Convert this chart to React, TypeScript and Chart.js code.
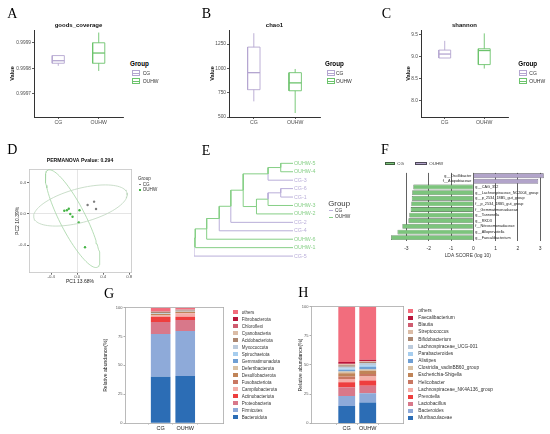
import React, { useEffect, useRef } from 'react';
import { Chart, registerables } from 'chart.js';
Chart.register(...registerables);

const SANS = "'Liberation Sans', Arial, sans-serif";
const SERIF = "'Liberation Serif', 'Times New Roman', serif";
Chart.defaults.font.family = SANS;

// ---------- shared ----------
const groups = ['CG', 'OUHW'];
const boxColors = ['#b4a6d0', '#6cc36c'];

// ---------- A/B/C : [min, q1, median, q3, max] ----------
const goodsCG = [0.99981, 0.99982, 0.99983, 0.99985, 0.99985];
const goodsOUHW = [0.99979, 0.99982, 0.99986, 0.9999, 0.99994];
const goodsTicks = [0.9997, 0.9998, 0.9999];
const chaoCG = [661, 781, 956, 1219, 1362];
const chaoOUHW = [541, 770, 851, 956, 994];
const chaoTicks = [500, 750, 1000, 1250];
const shannonCG = [8.96, 8.96, 9.05, 9.14, 9.35];
const shannonOUHW = [8.72, 8.81, 9.13, 9.17, 9.52];
const shannonTicks = [8.0, 8.5, 9.0, 9.5];

// ---------- D : PCoA ----------
const pcoaCGx = [0.16, 0.26, 0.29];
const pcoaCGy = [0.115, 0.158, 0.064];
const pcoaOUx = [-0.199, -0.159, -0.13, -0.107, -0.072, 0.035, 0.024, 0.12];
const pcoaOUy = [0.042, 0.047, 0.068, 0.0, -0.035, 0.047, -0.107, -0.427];
// ellipse: centre x, centre y, axis-1 vector, axis-2 vector
const ellipseCG = [0.05, 0.109, 0.718, 0.16, 0.067, -0.21];
const ellipseOU = [-0.07, -0.06, 0.382, -0.622, 0.177, 0.077];
const pcoaTicks = [-0.4, 0.0, 0.4, 0.8];

// ---------- E : clustering tree ----------
const leafNames = ['OUHW-5', 'OUHW-4', 'CG-3', 'CG-6', 'CG-1', 'OUHW-3', 'OUHW-2', 'CG-2', 'CG-4', 'OUHW-6', 'OUHW-1', 'CG-5'];
const mergeA = ['OUHW-5', 'n0', 'CG-6', 'n2', 'n3', 'n1', 'n5', 'n6', 'n7', 'n8', 'n9'];
const mergeB = ['OUHW-4', 'CG-3', 'CG-1', 'OUHW-3', 'OUHW-2', 'n4', 'CG-2', 'CG-4', 'OUHW-6', 'OUHW-1', 'CG-5'];
const mergeHeight = [12.4, 25.2, 12.4, 25.2, 36.9, 50.3, 62.8, 74.5, 87.2, 98.7, 100];
const treeColors = { CG: '#b9aed9', OUHW: '#86cf86' };

// ---------- F : LEfSe ----------
const fLabels = ['g__Oscillibacter', 'f__Atopobiaceae', 'g__CAG_352', 'g__Lachnospiraceae_NC2004_group', 'g__p_2534_18B5_gut_group', 'f__p_2534_18B5_gut_group', 'f__Gemmatimonadaceae', 'g__Tannerella', 'g__RKD3', 'f__Nitrosomonadaceae', 'g__Alloprevotella', 'g__Faecalibacterium'];
const fScores = [3.16, 2.91, -2.69, -2.74, -2.76, -2.78, -2.81, -2.87, -2.91, -3.18, -3.4, -3.69];
const fGroup = ['OUHW', 'OUHW', 'CG', 'CG', 'CG', 'CG', 'CG', 'CG', 'CG', 'CG', 'CG', 'CG'];
const fTicks = [-3, -2, -1, 0, 1, 2, 3];

// ---------- G / H : composition (bottom to top) ----------
const stackColors = ['#2c6db5', '#8eaad9', '#d8788a', '#ee3e3e', '#f4aea8', '#c97762', '#c08458', '#d9c2a4', '#6f9fd3', '#a6cdee', '#bccbdc', '#ab8670', '#dbbca6', '#cf5c70', '#b9163a', '#f26d7d'];
const phylaNames = ['Bacteroidota', 'Firmicutes', 'Proteobacteria', 'Actinobacteriota', 'Campilobacterota', 'Fusobacteriota', 'Desulfobacterota', 'Deferribacterota', 'Gemmatimonadota', 'Spirochaetota', 'Myxococcota', 'Acidobacteriota', 'Cyanobacteria', 'Chloroflexi', 'Fibrobacterota', 'others'];
const phylaCG = [40.2, 37.0, 10.4, 4.6, 1.0, 0.3, 1.0, 0.3, 0.2, 0.2, 0.2, 0.8, 0.3, 0.4, 0.2, 2.9];
const phylaOUHW = [40.8, 39.0, 9.5, 2.9, 2.9, 0.3, 1.0, 0.3, 0.2, 0.2, 0.2, 0.6, 0.3, 0.3, 0.1, 1.4];
const genusNames = ['Muribaculaceae', 'Bacteroides', 'Lactobacillus', 'Prevotella', 'Lachnospiraceae_NK4A136_group', 'Helicobacter', 'Escherichia-Shigella', 'Clostridia_vadinBB60_group', 'Alistipes', 'Parabacteroides', 'Lachnospiraceae_UCG-001', 'Bifidobacterium', 'Streptococcus', 'Blautia', 'Faecalibacterium', 'others'];
const genusCG = [14.9, 8.5, 7.5, 4.3, 2.9, 2.0, 2.9, 1.5, 1.5, 1.0, 1.5, 1.3, 0.8, 0.5, 1.4, 47.5];
const genusOUHW = [17.8, 8.0, 6.3, 4.6, 3.4, 2.1, 2.8, 1.2, 2.0, 1.5, 2.0, 0.8, 0.6, 0.4, 1.0, 45.5];
const pctTicks = [0, 25, 50, 75, 100];

// ---------- helpers ----------
const base = { animation: false, responsive: false, events: [] as any[] };
const noPlug = { legend: { display: false }, tooltip: { enabled: false } };
const lineDs = (data: any[], color: string, width = 0.9) => ({
  type: 'scatter', showLine: true, pointRadius: 0, borderColor: color, backgroundColor: color,
  borderWidth: width, fill: false, data,
});
const setTicks = (vals: number[]) => (s: any) => { s.ticks = vals.map((v) => ({ value: v })); };
const frameAxis = (pos: string, color: string) => ({
  position: pos, type: 'linear', display: true,
  ticks: { display: false }, grid: { display: false, drawTicks: false },
  border: { display: true, color, width: 0.8 },
  afterFit: (s: any) => { if (pos === 'top') s.height = 0; else s.width = 0; },
});

function boxDatasets(stats: number[][]) {
  const hw = 0.15;
  const ds: any[] = [];
  stats.forEach((s, i) => {
    const x = i + 1;
    const c = boxColors[i];
    const [mn, q1, md, q3, mx] = s;
    ds.push(lineDs([{ x, y: mn }, { x, y: q1 }], c));
    ds.push(lineDs([{ x, y: q3 }, { x, y: mx }], c));
    ds.push(lineDs([{ x: x - hw, y: q1 }, { x: x + hw, y: q1 }, { x: x + hw, y: q3 }, { x: x - hw, y: q3 }, { x: x - hw, y: q1 }], c));
    ds.push(lineDs([{ x: x - hw, y: md }, { x: x + hw, y: md }], c, 1.3));
  });
  return ds;
}

function boxConfig(title: string, stats: number[][], yMin: number, yMax: number, ticks: number[], fmt: (v: number) => string, padLeft: number, yWidth: number, padRight: number) {
  const axisCol = '#333';
  return {
    type: 'scatter',
    data: { datasets: boxDatasets(stats) },
    options: {
      ...base,
      layout: { padding: { left: padLeft, right: padRight, top: 0, bottom: 0 } },
      plugins: {
        ...noPlug,
        title: { display: true, text: title, fullSize: false, color: '#111', font: { family: SANS, size: 6, weight: 'bold', lineHeight: 1.2 }, padding: { top: 21.6, bottom: 1.2 } },
      },
      scales: {
        x: {
          type: 'linear', min: 0.4, max: 2.6,
          afterBuildTicks: setTicks([1, 2]),
          afterFit: (s: any) => { s.height = 13; },
          ticks: { callback: (v: any) => groups[Math.round(v) - 1], font: { size: 5.2 }, color: '#4d4d4d', padding: 0.5, maxRotation: 0, autoSkip: false },
          grid: { drawOnChartArea: false, tickLength: 2, color: axisCol, lineWidth: 0.8 },
          border: { color: axisCol, width: 1 },
        },
        y: {
          type: 'linear', min: yMin, max: yMax,
          afterBuildTicks: setTicks(ticks),
          afterFit: (s: any) => { s.width = yWidth; },
          ticks: { callback: (v: any) => fmt(v), font: { size: 4.8 }, color: '#4d4d4d', padding: 1 },
          grid: { drawOnChartArea: false, tickLength: 2, color: axisCol, lineWidth: 0.8 },
          border: { color: axisCol, width: 1 },
          title: { display: true, text: 'Value', color: '#111', font: { size: 5.6, weight: 'bold', lineHeight: 1.2 }, padding: { top: 1, bottom: 0 } },
        },
      },
    },
  };
}

function ellipsePts(e: number[]) {
  const [cx, cy, ax, ay, bx, by] = e;
  const pts: { x: number; y: number }[] = [];
  for (let k = 0; k <= 90; k++) {
    const t = (k / 90) * 2 * Math.PI;
    pts.push({ x: cx + ax * Math.cos(t) + bx * Math.sin(t), y: cy + ay * Math.cos(t) + by * Math.sin(t) });
  }
  return pts;
}

function pcoaConfig() {
  const frame = '#c4c4c4';
  const zeroGrid = (ctx: any) => (ctx.tick && Math.abs(ctx.tick.value) < 1e-9 ? '#dedede' : 'rgba(0,0,0,0)');
  return {
    type: 'scatter',
    data: {
      datasets: [
        lineDs(ellipsePts(ellipseCG), '#bcd6bc', 0.8),
        lineDs(ellipsePts(ellipseOU), '#a3d4a3', 0.8),
        { type: 'scatter', data: pcoaCGx.map((x, i) => ({ x, y: pcoaCGy[i] })), pointRadius: 1.2, backgroundColor: '#7d7d7d', borderWidth: 0 },
        { type: 'scatter', data: pcoaOUx.map((x, i) => ({ x, y: pcoaOUy[i] })), pointRadius: 1.2, backgroundColor: '#45b445', borderWidth: 0 },
      ],
    },
    options: {
      ...base,
      layout: { padding: { left: 15, right: 3, top: 0, bottom: 5.3 } },
      plugins: {
        ...noPlug,
        title: { display: true, text: 'PERMANOVA Pvalue: 0.294', fullSize: false, color: '#111', font: { size: 5.1, weight: 'bold', lineHeight: 1.2 }, padding: { top: 7.64, bottom: 5.24 } },
      },
      scales: {
        x: {
          type: 'linear', min: -0.743, max: 0.829,
          afterBuildTicks: setTicks(pcoaTicks),
          afterFit: (s: any) => { s.height = 12; },
          ticks: { callback: (v: any) => Number(v).toFixed(1), font: { size: 4.3 }, color: '#4d4d4d', padding: 0, maxRotation: 0, autoSkip: false },
          grid: { color: zeroGrid, tickColor: '#444', tickLength: 2, lineWidth: 0.8 },
          border: { color: frame, width: 0.8 },
          title: { display: true, text: 'PC1 13.68%', color: '#222', font: { size: 5, lineHeight: 1.2 }, padding: 0 },
        },
        y: {
          type: 'linear', min: -0.753, max: 0.577,
          afterBuildTicks: setTicks([-0.4, 0.0, 0.4]),
          afterFit: (s: any) => { s.width = 14; },
          ticks: { callback: (v: any) => Number(v).toFixed(1), font: { size: 4.3 }, color: '#4d4d4d', padding: 1 },
          grid: { color: zeroGrid, tickColor: '#444', tickLength: 2, lineWidth: 0.8 },
          border: { color: frame, width: 0.8 },
          title: { display: true, text: 'PC2 10.39%', color: '#222', font: { size: 5, lineHeight: 1.2 }, padding: 0 },
        },
        x2: frameAxis('top', frame),
        y2: frameAxis('right', frame),
      },
    },
  };
}

function treeConfig() {
  const pos: Record<string, { y: number; h: number; cg: boolean }> = {};
  leafNames.forEach((n, i) => { pos[n] = { y: i, h: 0, cg: n.startsWith('CG') }; });
  const ds: any[] = [];
  const col = (cg: boolean) => (cg ? treeColors.CG : treeColors.OUHW);
  mergeHeight.forEach((h, k) => {
    const a = pos[mergeA[k]];
    const b = pos[mergeB[k]];
    const mid = (a.y + b.y) / 2;
    ds.push(lineDs([{ x: a.h, y: a.y }, { x: h, y: a.y }, { x: h, y: mid }], col(a.cg), 1));
    ds.push(lineDs([{ x: b.h, y: b.y }, { x: h, y: b.y }, { x: h, y: mid }], col(b.cg), 1));
    pos['n' + k] = { y: mid, h, cg: a.cg && b.cg };
  });
  return {
    type: 'scatter',
    data: { datasets: ds },
    options: {
      ...base,
      layout: { padding: { left: 9, right: 12, top: 9.1, bottom: 4.7 } },
      plugins: { ...noPlug },
      scales: {
        x: { type: 'linear', reverse: true, min: 0, max: 100, display: false },
        y: {
          type: 'linear', reverse: true, min: -0.5, max: 11.5, position: 'right',
          afterBuildTicks: setTicks(leafNames.map((_, i) => i)),
          afterFit: (s: any) => { s.width = 30; },
          ticks: {
            callback: (v: any) => leafNames[Math.round(v)],
            color: (ctx: any) => (leafNames[ctx.index] && leafNames[ctx.index].startsWith('CG') ? treeColors.CG : treeColors.OUHW),
            font: { size: 5.3 }, padding: 1, autoSkip: false,
          },
          grid: { display: false, drawTicks: false },
          border: { display: false },
        },
      },
    },
  };
}

const fLabelPlugin = {
  id: 'fLabels',
  afterDraw(chart: any) {
    const { ctx } = chart;
    const xs = chart.scales.x;
    const ys = chart.scales.y;
    const x0 = xs.getPixelForValue(0);
    ctx.save();
    ctx.font = `3.8px ${SANS}`;
    ctx.fillStyle = '#222';
    ctx.textBaseline = 'middle';
    fLabels.forEach((t, i) => {
      const yy = ys.getPixelForValue(i);
      const positive = fScores[i] > 0;
      ctx.textAlign = positive ? 'right' : 'left';
      ctx.fillText(t, positive ? x0 - 2 : x0 + 2, yy);
    });
    ctx.restore();
  },
};

function ldaConfig() {
  return {
    type: 'bar',
    data: {
      labels: fLabels,
      datasets: [
        { label: 'CG', data: fScores.map((v, i) => (fGroup[i] === 'CG' ? v : null)), backgroundColor: '#7cc47c', borderColor: '#3f5f3f', borderWidth: 0.6, grouped: false, barPercentage: 0.86, categoryPercentage: 1 },
        { label: 'OUHW', data: fScores.map((v, i) => (fGroup[i] === 'OUHW' ? v : null)), backgroundColor: '#b2a4ca', borderColor: '#4f4a5a', borderWidth: 0.6, grouped: false, barPercentage: 0.86, categoryPercentage: 1 },
      ],
    },
    plugins: [fLabelPlugin],
    options: {
      ...base,
      indexAxis: 'y',
      layout: { padding: { left: 19.7, right: 4.2, top: 22.9, bottom: 6.06 } },
      plugins: { ...noPlug },
      scales: {
        x: {
          type: 'linear', min: -3.75, max: 3.25, z: 1,
          afterBuildTicks: setTicks(fTicks),
          afterFit: (s: any) => { s.height = 18.44; },
          ticks: { callback: (v: any) => String(v), font: { size: 5 }, color: '#333', padding: 4.8, maxRotation: 0, autoSkip: false },
          grid: { color: '#3a3a3a', lineWidth: 0.8, drawTicks: false },
          border: { display: false },
          title: { display: true, text: 'LDA SCORE (log 10)', color: '#333', font: { size: 4.9, lineHeight: 1.2 }, padding: 0 },
        },
        y: { type: 'category', display: false },
      },
    },
  };
}

function stackConfig(names: string[], cg: number[], ou: number[], xMin: number, xMax: number, padLeft: number, yWidth: number, padTop: number, xHeight: number) {
  const frame = '#a8a8a8';
  return {
    type: 'bar',
    data: {
      datasets: names.map((n, i) => ({
        label: n, data: [{ x: 1, y: cg[i] }, { x: 2, y: ou[i] }],
        backgroundColor: stackColors[i], borderWidth: 0, barPercentage: 0.8, categoryPercentage: 1,
      })),
    },
    options: {
      ...base,
      layout: { padding: { left: padLeft, right: 1.7, top: padTop, bottom: 0 } },
      plugins: { ...noPlug },
      scales: {
        x: {
          type: 'linear', stacked: true, min: xMin, max: xMax,
          afterBuildTicks: setTicks([1, 2]),
          afterFit: (s: any) => { s.height = xHeight; },
          ticks: { callback: (v: any) => groups[Math.round(v) - 1], font: { size: 5.5 }, color: '#222', padding: 0.5, maxRotation: 0, autoSkip: false },
          grid: { drawOnChartArea: false, tickLength: 1.5, color: '#777', lineWidth: 0.6 },
          border: { color: frame, width: 0.8 },
        },
        y: {
          type: 'linear', stacked: true, min: 0, max: 100,
          afterBuildTicks: setTicks(pctTicks),
          afterFit: (s: any) => { s.width = yWidth; },
          ticks: { callback: (v: any) => String(v), font: { size: 4 }, color: '#555', padding: 1 },
          grid: { drawOnChartArea: false, tickLength: 1.5, color: '#777', lineWidth: 0.6 },
          border: { color: frame, width: 0.8 },
          title: { display: true, text: 'Relative abundance(%)', color: '#222', font: { size: 5.1, lineHeight: 1.2 }, padding: 0 },
        },
        x2: frameAxis('top', frame),
        y2: frameAxis('right', frame),
      },
    },
  };
}

// ---------- components ----------
function ChartBox({ left, top, width, height, make }: { left: number; top: number; width: number; height: number; make: () => any }) {
  const ref = useRef<HTMLCanvasElement>(null);
  useEffect(() => {
    if (!ref.current) return;
    const chart = new Chart(ref.current, make());
    return () => chart.destroy();
  }, []);
  return <canvas ref={ref} width={width} height={height} style={{ position: 'absolute', left, top, width, height }} />;
}

function Txt({ x, cy, s, children, bold, color = '#222', family = SANS }: any) {
  return (
    <div style={{ position: 'absolute', left: x, top: cy - s * 0.6, fontSize: s, lineHeight: `${s * 1.2}px`, fontFamily: family, fontWeight: bold ? 'bold' : 'normal', color, whiteSpace: 'nowrap' }}>
      {children}
    </div>
  );
}

function Rect({ x, cy, w, h, bg, border }: any) {
  return <div style={{ position: 'absolute', left: x, top: cy - h / 2, width: w, height: h, background: bg, boxSizing: 'border-box', border: border || 'none' }} />;
}

function BoxGlyph({ x, cy, color }: any) {
  return (
    <div style={{ position: 'absolute', left: x, top: cy - 3, width: 8, height: 6, boxSizing: 'border-box', border: `1px solid ${color}`, background: '#fff' }}>
      <div style={{ position: 'absolute', left: 0, right: 0, top: 1.5, height: 1, background: color }} />
    </div>
  );
}

function BoxLegend({ tx, gx, lx }: { tx: number; gx: number; lx: number }) {
  return (
    <>
      <Txt x={tx} cy={63.5} s={6.3} bold color="#000">Group</Txt>
      <BoxGlyph x={gx} cy={73} color={boxColors[0]} />
      <Txt x={lx} cy={73} s={5} color="#333">{groups[0]}</Txt>
      <BoxGlyph x={gx} cy={81.3} color={boxColors[1]} />
      <Txt x={lx} cy={81.3} s={5} color="#333">{groups[1]}</Txt>
    </>
  );
}

function StackLegend({ names, ix, tx, y0, step, iw, ih, s }: any) {
  const n = names.length;
  return (
    <>
      {names.map((_: string, k: number) => {
        const i = n - 1 - k;
        const cy = y0 + k * step;
        return (
          <React.Fragment key={k}>
            <Rect x={ix} cy={cy} w={iw} h={ih} bg={stackColors[i]} />
            <Txt x={tx} cy={cy} s={s} color="#333">{names[i]}</Txt>
          </React.Fragment>
        );
      })}
    </>
  );
}

export default function App() {
  const letter = (t: string, x: number, cy: number) => <Txt x={x} cy={cy} s={14} family={SERIF} color="#000">{t}</Txt>;
  return (
    <div style={{ position: 'absolute', left: 0, top: 0, width: 550, height: 434, background: '#fff', overflow: 'hidden' }}>
      <ChartBox left={0} top={0} width={130} height={130} make={() => boxConfig('goods_coverage', [goodsCG, goodsOUHW], 0.99961, 0.99995, goodsTicks, (v) => v.toFixed(4), 7.84, 26.16, 7)} />
      <ChartBox left={180} top={0} width={145} height={130} make={() => boxConfig('chao1', [chaoCG, chaoOUHW], 500, 1395, chaoTicks, (v) => String(v), 27.64, 21.36, 5)} />
      <ChartBox left={360} top={0} width={150} height={130} make={() => boxConfig('shannon', [shannonCG, shannonOUHW], 7.618, 9.597, shannonTicks, (v) => v.toFixed(1), 43.94, 17.06, 2)} />
      <ChartBox left={0} top={150} width={135} height={140} make={pcoaConfig} />
      <ChartBox left={185} top={150} width={150} height={115} make={treeConfig} />
      <ChartBox left={370} top={150} width={180} height={115} make={ldaConfig} />
      <ChartBox left={90} top={285} width={135} height={149} make={() => stackConfig(phylaNames, phylaCG, phylaOUHW, 0.548, 2.55, 12.74, 22.26, 22.7, 11)} />
      <ChartBox left={285} top={285} width={120} height={149} make={() => stackConfig(genusNames, genusCG, genusOUHW, 0.398, 2.595, 12.94, 13.06, 21.7, 10.7)} />

      {letter('A', 7.3, 14.5)}
      {letter('B', 201.7, 14.2)}
      {letter('C', 381.7, 14.5)}
      {letter('D', 7.3, 150.5)}
      {letter('E', 201.7, 151)}
      {letter('F', 381, 150.5)}
      {letter('G', 104, 294.7)}
      {letter('H', 298.3, 293.5)}

      <BoxLegend tx={130} gx={132} lx={142.7} />
      <BoxLegend tx={325} gx={326.7} lx={336} />
      <BoxLegend tx={518.3} gx={519.3} lx={529.3} />

      {/* D legend */}
      <Txt x={138} cy={178.5} s={4.6} color="#333">Group</Txt>
      <Rect x={139.2} cy={184.5} w={1.8} h={1.8} bg="#7d7d7d" />
      <Txt x={142.7} cy={184.5} s={4.6} color="#333">{groups[0]}</Txt>
      <Rect x={139.2} cy={189.7} w={1.8} h={1.8} bg="#45b445" />
      <Txt x={142.7} cy={189.7} s={4.6} color="#333">{groups[1]}</Txt>

      {/* E legend */}
      <Txt x={328.3} cy={203.3} s={7.8} color="#333">Group</Txt>
      <Rect x={329.3} cy={210.5} w={4} h={0.8} bg={treeColors.CG} />
      <Txt x={335} cy={210.5} s={4.8} color="#333">{groups[0]}</Txt>
      <Rect x={329.3} cy={217.3} w={4} h={0.8} bg={treeColors.OUHW} />
      <Txt x={335} cy={217.3} s={4.8} color="#333">{groups[1]}</Txt>

      {/* F legend */}
      <Rect x={385} cy={163.5} w={10} h={3.6} bg="#7cc47c" border="0.6px solid #3f5f3f" />
      <Txt x={397.3} cy={163.5} s={4.4} color="#333">{groups[0]}</Txt>
      <Rect x={415} cy={163.5} w={11.7} h={3.6} bg="#b2a4ca" border="0.6px solid #4f4a5a" />
      <Txt x={429.3} cy={163.5} s={4.4} color="#333">{groups[1]}</Txt>

      <StackLegend names={phylaNames} ix={232.7} tx={241.7} y0={312.3} step={7} iw={5.6} ih={4} s={4.5} />
      <StackLegend names={genusNames} ix={408.3} tx={418.3} y0={310.7} step={7.17} iw={5} ih={4} s={4.8} />
    </div>
  );
}
